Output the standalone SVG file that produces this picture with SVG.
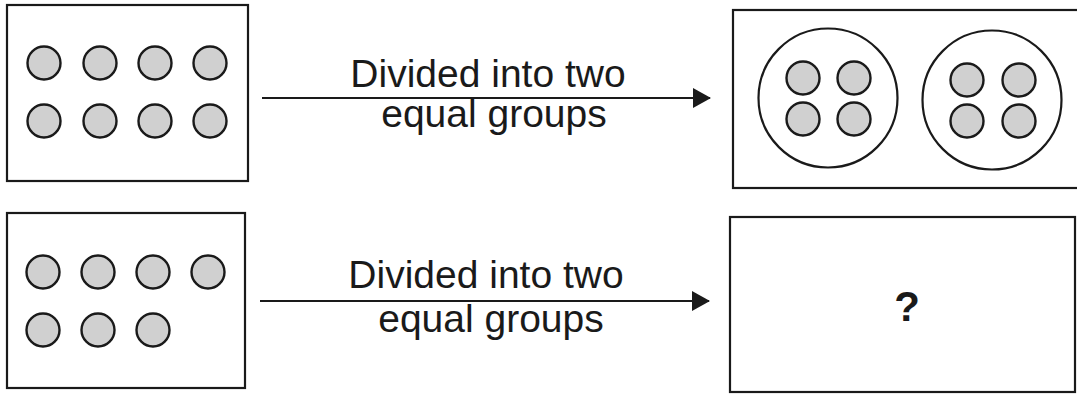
<svg xmlns="http://www.w3.org/2000/svg" width="1077" height="396" viewBox="0 0 1077 396">
<defs>
<style>
.box{fill:#fff;stroke:#1a1a1a;stroke-width:2.2}
.dot{fill:#d0d0d0;stroke:#1a1a1a;stroke-width:2.4}
.ring{fill:none;stroke:#1a1a1a;stroke-width:2.2}
.lbl{font-family:"Liberation Sans",Arial,sans-serif;font-size:39px;fill:#1a1a1a;text-anchor:middle}
.q{font-family:"Liberation Sans",Arial,sans-serif;font-size:42px;font-weight:bold;fill:#1a1a1a;text-anchor:middle}
.conn{stroke:#1a1a1a;stroke-width:2;fill:none}
</style>
<marker id="arr" markerWidth="18" markerHeight="20" refX="17" refY="10" orient="auto" markerUnits="userSpaceOnUse" viewBox="0 0 18 20">
<path d="M0,0 L18,10 L0,20 Z" fill="#1a1a1a"/>
</marker>
</defs>
<rect width="1077" height="396" fill="#fff"/>
<g id="box-top-left">
<rect class="box" x="7" y="5" width="241" height="176"/>
<circle class="dot" cx="44" cy="63" r="16.5"/>
<circle class="dot" cx="100" cy="63" r="16.5"/>
<circle class="dot" cx="155" cy="63" r="16.5"/>
<circle class="dot" cx="210" cy="63" r="16.5"/>
<circle class="dot" cx="44" cy="121" r="16.5"/>
<circle class="dot" cx="100" cy="121" r="16.5"/>
<circle class="dot" cx="155" cy="121" r="16.5"/>
<circle class="dot" cx="210" cy="121" r="16.5"/>
</g>
<g id="box-top-right">
<rect class="box" x="733" y="10" width="350" height="178"/>
<circle class="ring" cx="828" cy="98" r="69.5"/>
<circle class="ring" cx="992" cy="100" r="69.5"/>
<circle class="dot" cx="803" cy="78" r="16.5"/>
<circle class="dot" cx="854" cy="78" r="16.5"/>
<circle class="dot" cx="803" cy="119" r="16.5"/>
<circle class="dot" cx="854" cy="119" r="16.5"/>
<circle class="dot" cx="967" cy="80" r="16.5"/>
<circle class="dot" cx="1019" cy="80" r="16.5"/>
<circle class="dot" cx="967" cy="121" r="16.5"/>
<circle class="dot" cx="1019" cy="121" r="16.5"/>
</g>
<g id="box-bottom-left">
<rect class="box" x="7" y="213" width="238" height="175"/>
<circle class="dot" cx="43" cy="272" r="16.5"/>
<circle class="dot" cx="98" cy="272" r="16.5"/>
<circle class="dot" cx="153" cy="272" r="16.5"/>
<circle class="dot" cx="208" cy="272" r="16.5"/>
<circle class="dot" cx="43" cy="330" r="16.5"/>
<circle class="dot" cx="98" cy="330" r="16.5"/>
<circle class="dot" cx="153" cy="330" r="16.5"/>
</g>
<g id="box-bottom-right">
<rect class="box" x="730" y="217" width="345" height="175"/>
<text class="q" x="907" y="321">?</text>
</g>
<g id="connectors">
<line class="conn" x1="262" y1="98" x2="710" y2="98" marker-end="url(#arr)"/>
<line class="conn" x1="260" y1="301" x2="709" y2="301" marker-end="url(#arr)"/>
</g>
<g id="labels">
<text class="lbl" x="488" y="87">Divided into two</text>
<text class="lbl" x="494" y="127">equal groups</text>
<text class="lbl" x="486" y="288">Divided into two</text>
<text class="lbl" x="491" y="332">equal groups</text>
</g>
</svg>
